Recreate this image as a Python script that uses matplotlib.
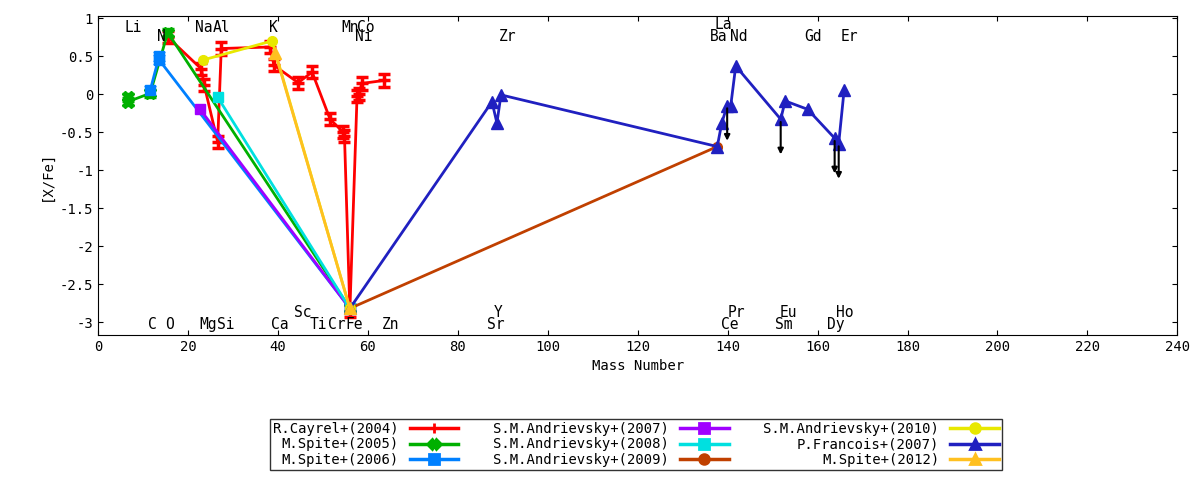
import numpy as np
import matplotlib
matplotlib.use("Agg")
import matplotlib.pyplot as plt
from matplotlib.lines import Line2D

plt.rcParams['font.family'] = ['DejaVu Sans Mono']
plt.rcParams['font.size'] = 10

# data
cayrel_x = [15.5, 23.0, 23.6, 26.6, 27.4, 38.3, 39.1, 44.5, 47.6, 51.6, 54.5, 54.8, 56.0, 57.6, 58.1, 58.6, 63.6]
cayrel_y = [0.75, 0.33, 0.12, -0.63, 0.60, 0.62, 0.38, 0.15, 0.29, -0.33, -0.50, -0.55, -2.85, -0.02, 0.00, 0.14, 0.18]
spite05_x = [6.6, 6.6, 11.6, 15.5, 56.0]
spite05_y = [-0.04, -0.10, 0.01, 0.81, -2.82]
spite06_x = [11.6, 13.6, 13.6, 56.0]
spite06_y = [0.05, 0.50, 0.45, -2.82]
andr07_x = [22.7, 56.0]; andr07_y = [-0.20, -2.82]
andr08_x = [26.6, 56.0]; andr08_y = [-0.04, -2.82]
andr09_x = [56.0, 137.7]; andr09_y = [-2.82, -0.69]
andr10_x = [23.4, 38.7, 56.0]; andr10_y = [0.45, 0.70, -2.82]
spite12_x = [39.4, 56.0]; spite12_y = [0.54, -2.82]
franc_x = [56.0, 87.6, 88.7, 89.6, 137.7, 138.7, 139.9, 140.7, 141.8, 151.8, 152.8, 157.8, 163.8, 164.7, 165.9]
franc_y = [-2.82, -0.10, -0.38, -0.01, -0.69, -0.38, -0.15, -0.15, 0.37, -0.33, -0.09, -0.20, -0.58, -0.65, 0.05]
limit_x = [139.9, 151.8, 163.8, 164.7]
limit_y = [-0.15, -0.33, -0.58, -0.65]

labels_top = [("Li", 7.8, 0.88), ("N", 14, 0.76), ("Na", 23.5, 0.88), ("Al", 27.5, 0.88),
              ("K", 39, 0.88), ("Mn", 56, 0.88), ("Co", 59.5, 0.88), ("Ni", 59, 0.76),
              ("Zr", 91, 0.76), ("La", 139, 0.92), ("Ba", 138, 0.76), ("Nd", 142.5, 0.76),
              ("Gd", 159, 0.76), ("Er", 167, 0.76)]
labels_bot = [("C", 12, -3.03), ("O", 16, -3.03), ("Mg", 24.5, -3.03), ("Si", 28.5, -3.03),
              ("Ca", 40.5, -3.03), ("Sc", 45.5, -2.87), ("Ti", 49, -3.03), ("Cr", 53, -3.03),
              ("Fe", 57, -3.03), ("Zn", 65, -3.03), ("Y", 89, -2.87), ("Sr", 88.5, -3.03),
              ("Pr", 142, -2.87), ("Ce", 140.5, -3.03), ("Eu", 153.5, -2.87), ("Sm", 152.5, -3.03),
              ("Ho", 166, -2.87), ("Dy", 164, -3.03)]

series = [
    (cayrel_x, cayrel_y, 0.08, '#ff0000', '+', 'R.Cayrel+(2004)'),
    (spite05_x, spite05_y, 0.06, '#00b000', 'X', 'M.Spite+(2005)'),
    (spite06_x, spite06_y, 0.06, '#0080ff', 's', 'M.Spite+(2006)'),
    (andr07_x, andr07_y, 0.0, '#a000ff', 's', 'S.M.Andrievsky+(2007)'),
    (andr08_x, andr08_y, 0.0, '#00e0e0', 's', 'S.M.Andrievsky+(2008)'),
    (andr09_x, andr09_y, 0.0, '#c04000', 'o', 'S.M.Andrievsky+(2009)'),
    (andr10_x, andr10_y, 0.0, '#e8e800', 'o', 'S.M.Andrievsky+(2010)'),
    (franc_x, franc_y, 0.0, '#2020c0', '^', 'P.Francois+(2007)'),
    (spite12_x, spite12_y, 0.0, '#ffc020', '^', 'M.Spite+(2012)'),
]

fig = plt.figure(figsize=(12, 4.8), dpi=100)
ax = fig.add_axes([0.0817, 0.302, 0.8994, 0.665])

handles = []
for x, y, err, col, mk, lab in series:
    ms = 8 if mk in '+^X' else 7
    ax.errorbar(x, y, yerr=err if err else None, color=col, lw=2, marker=mk, ms=ms,
                mew=2.5 if mk == '+' else 1, capsize=4, capthick=2)
    handles.append(Line2D([], [], color=col, lw=2.5, marker=mk, ms=7, mew=2, label=lab))

for x, y in zip(limit_x, limit_y):
    ax.annotate('', xy=(x, y - 0.5), xytext=(x, y),
                arrowprops=dict(arrowstyle='-|>', color='black', lw=1.5, mutation_scale=8))

for t, x, y in labels_top + labels_bot:
    ax.text(x, y, t, ha='center', va='center', fontsize=10.5)

ax.set_xlim(0, 240)
ax.set_ylim(-3.17, 1.03)
ax.set_xticks(np.arange(0, 241, 20))
ax.set_yticks([1, 0.5, 0, -0.5, -1, -1.5, -2, -2.5, -3])
ax.set_yticklabels(['1', '0.5', '0', '-0.5', '-1', '-1.5', '-2', '-2.5', '-3'])
ax.tick_params(direction='in', top=True, right=True)
ax.set_xlabel('Mass Number')
ax.set_ylabel('[X/Fe]')

fig.legend(handles=handles, ncol=3, loc='center', bbox_to_anchor=(0.53, 0.074),
           markerfirst=False, frameon=True, fancybox=False, edgecolor='black',
           fontsize=10, handlelength=3.5, borderpad=0.2, labelspacing=0.1,
           columnspacing=2.5)

fig.savefig('out.png', dpi=100)
